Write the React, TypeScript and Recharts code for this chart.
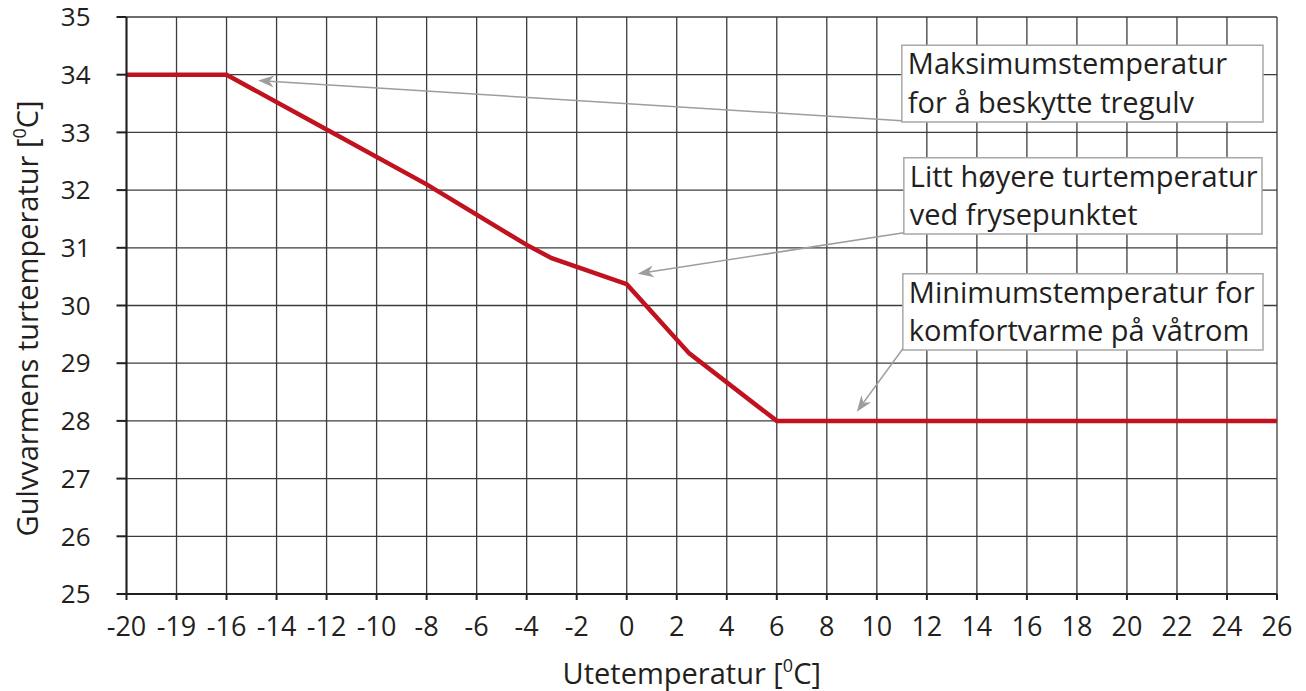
import React from "react";
import {
  LineChart,
  Line,
  XAxis,
  YAxis,
  CartesianGrid,
  ReferenceArea,
  ReferenceLine,
} from "recharts";

// x axis labels are evenly spaced even though the values are not
const xTickLabels = [-20, -19, -16, -14, -12, -10, -8, -6, -4, -2, 0, 2, 4, 6, 8, 10, 12, 14, 16, 18, 20, 22, 24, 26];
const yTicks = [25, 26, 27, 28, 29, 30, 31, 32, 33, 34, 35];

const outdoorTemps = [-20, -16, -12, -8, -4, -3, 0, 2.5, 6, 26];
const supplyTemps = [34, 34, 33.05, 32.1, 31.05, 30.82, 30.37, 29.17, 28, 28];

const notes = [
  ["Maksimumstemperatur", "for å beskytte tregulv"],
  ["Litt høyere turtemperatur", "ved frysepunktet"],
  ["Minimumstemperatur for", "komfortvarme på våtrom"],
];

const FONT = "'Open Sans', sans-serif";
const INK = "#231f20";

// outdoor temperature -> slot on the evenly spaced axis
const toSlot = (t: number) => {
  for (let i = 0; i < xTickLabels.length - 1; i++) {
    const a = xTickLabels[i];
    const b = xTickLabels[i + 1];
    if (t >= a && t <= b) return i + (t - a) / (b - a);
  }
  return xTickLabels.length - 1;
};

const data = outdoorTemps.map((t, i) => ({ slot: toSlot(t), temp: supplyTemps[i] }));
const slotTicks = xTickLabels.map((_, i) => i);

// note boxes [x1, x2, yTop, yBottom] and arrow tips, in axis units
const boxes = [
  [15.5, 22.72, 34.51, 33.18],
  [15.54, 22.7, 32.56, 31.24],
  [15.52, 22.72, 30.55, 29.23],
];
const arrowTips = [
  [2.63, 33.9],
  [10.22, 30.55],
  [14.6, 28.16],
];

function NoteText({ viewBox, lines }: any) {
  const { x, y } = viewBox;
  return (
    <text x={x + 6} y={y + 29} fontFamily={FONT} fontSize={29} fill={INK}>
      {lines.map((l: string, i: number) => (
        <tspan key={i} x={x + 6} dy={i === 0 ? 0 : 38.5}>
          {l}
        </tspan>
      ))}
    </text>
  );
}

function Arrow(props: any) {
  const { x1, y1, x2, y2 } = props;
  const ang = Math.atan2(y2 - y1, x2 - x1);
  const len = 16;
  const w = 6;
  const bx = x2 - len * Math.cos(ang);
  const by = y2 - len * Math.sin(ang);
  const nx = -Math.sin(ang);
  const ny = Math.cos(ang);
  const mx = x2 - len * 0.7 * Math.cos(ang);
  const my = y2 - len * 0.7 * Math.sin(ang);
  return (
    <g>
      <line x1={x1} y1={y1} x2={mx} y2={my} stroke="#9d9d9d" strokeWidth={1.5} />
      <polygon
        points={`${x2},${y2} ${bx + nx * w},${by + ny * w} ${mx},${my} ${bx - nx * w},${by - ny * w}`}
        fill="#9d9d9d"
      />
    </g>
  );
}

function XTitle({ viewBox }: any) {
  const cx = viewBox.x + viewBox.width / 2 - 10;
  return (
    <text x={cx} y={684} textAnchor="middle" fontFamily={FONT} fontSize={29} fill={INK}>
      Utetemperatur [<tspan fontSize={18} dy={-12}>0</tspan>
      <tspan dy={12}>C]</tspan>
    </text>
  );
}

function YTitle({ viewBox }: any) {
  const cx = 38;
  const cy = viewBox.y + viewBox.height / 2 + 13;
  return (
    <text
      x={cx}
      y={cy}
      textAnchor="middle"
      transform={`rotate(-90 ${cx} ${cy})`}
      fontFamily={FONT}
      fontSize={29}
      fill={INK}
    >
      Gulvvarmens turtemperatur [<tspan fontSize={18} dy={-12}>0</tspan>
      <tspan dy={12}>C]</tspan>
    </text>
  );
}

export default function App() {
  return (
    <div style={{ position: "absolute", left: 0, top: 0, background: "#fff" }}>
      <LineChart width={1306} height={691} data={data} margin={{ top: 17, right: 29, left: 0, bottom: 0 }}>
        <CartesianGrid stroke="#3c3c3c" strokeWidth={1.3} />
        <XAxis
          type="number"
          dataKey="slot"
          domain={[0, xTickLabels.length - 1]}
          ticks={slotTicks}
          interval={0}
          tickFormatter={(v: number) => String(xTickLabels[v])}
          height={97}
          stroke={INK}
          strokeWidth={2}
          tickSize={6}
          tickMargin={17}
          tick={{ fontFamily: FONT, fontSize: 27, fill: INK }}
          label={<XTitle />}
        />
        <YAxis
          type="number"
          domain={[25, 35]}
          ticks={yTicks}
          interval={0}
          width={126.5}
          stroke={INK}
          strokeWidth={2}
          tickSize={10}
          tickMargin={26}
          tick={{ fontFamily: FONT, fontSize: 26, fill: INK }}
          label={<YTitle />}
        />
        {boxes.map((b, i) => (
          <ReferenceArea
            key={`box${i}`}
            x1={b[0]}
            x2={b[1]}
            y1={b[3]}
            y2={b[2]}
            fill="#fff"
            fillOpacity={1}
            stroke="#a8a8a8"
            strokeWidth={1.5}
            label={<NoteText lines={notes[i]} />}
          />
        ))}
        {boxes.map((b, i) => (
          <ReferenceLine
            key={`arrow${i}`}
            segment={[
              { x: b[0], y: b[3] + 0.02 },
              { x: arrowTips[i][0], y: arrowTips[i][1] },
            ]}
            shape={(p: any) => <Arrow {...p} />}
          />
        ))}
        <Line
          type="linear"
          dataKey="temp"
          stroke="#c1121f"
          strokeWidth={4.5}
          dot={false}
          isAnimationActive={false}
        />
      </LineChart>
    </div>
  );
}
